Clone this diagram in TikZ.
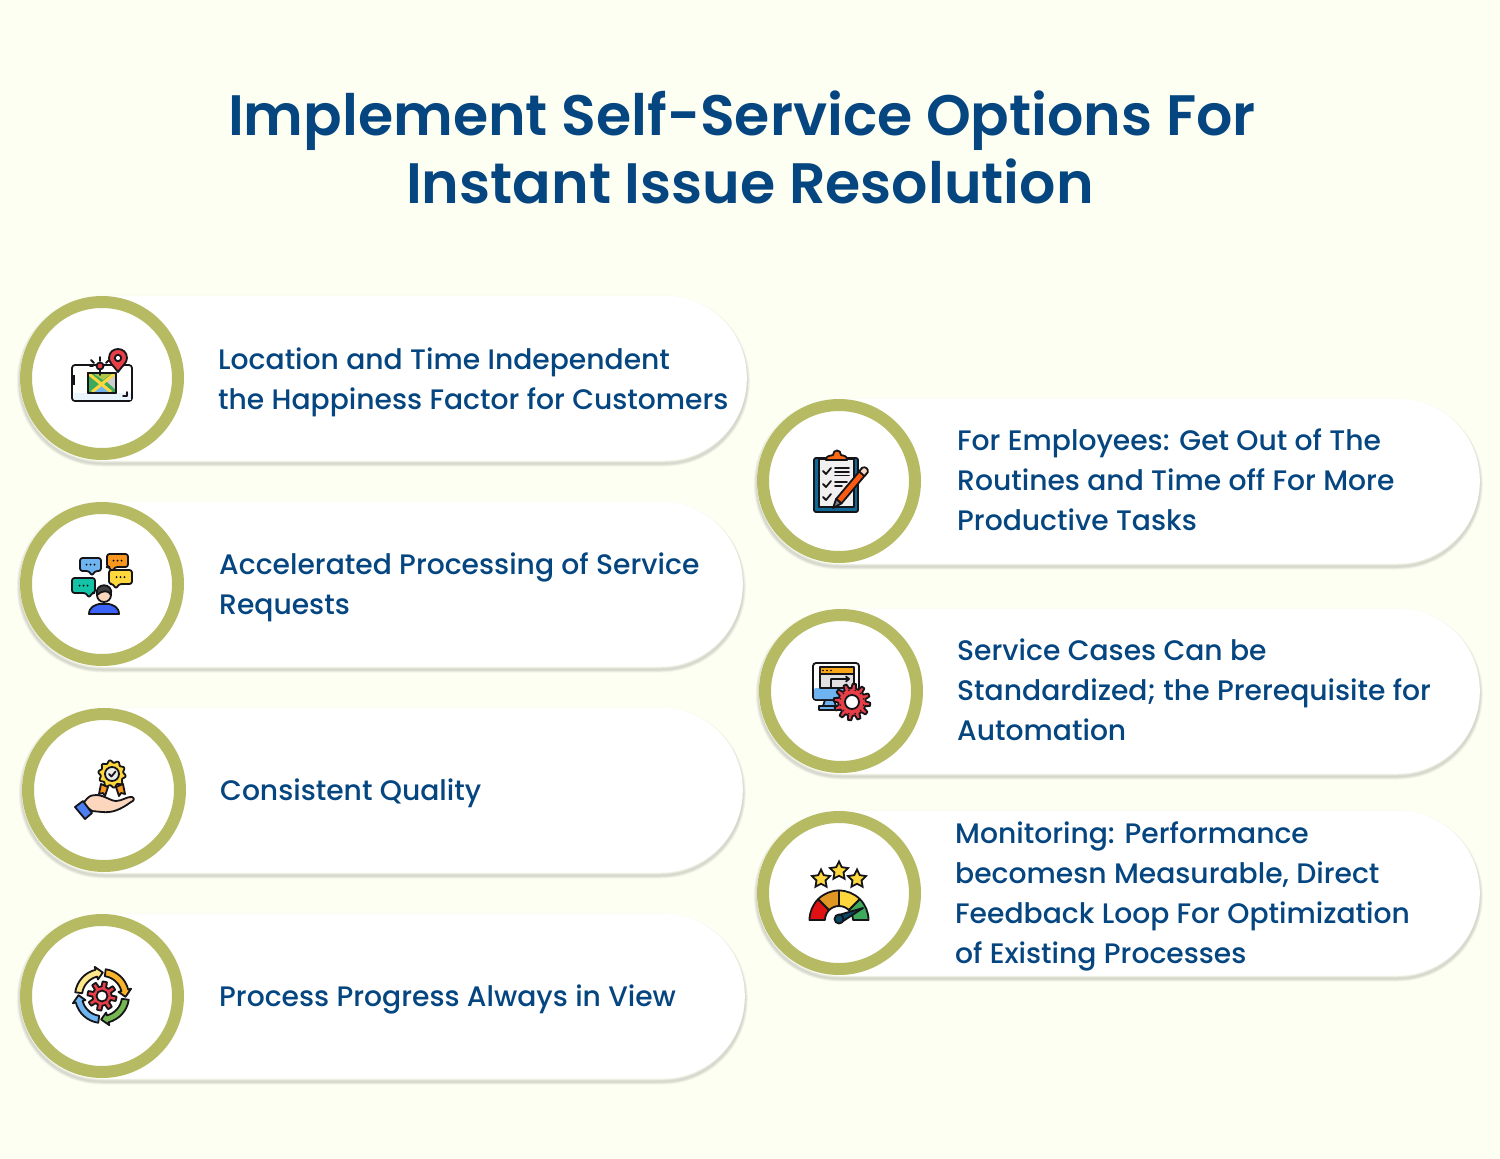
\documentclass[tikz,border=0pt]{standalone}
\usepackage{fontspec}
\setmainfont{Poppins Medium}
\newfontfamily\titlefont{Poppins SemiBold}
\usetikzlibrary{shapes.geometric}

% Wavy closed outline: shift, radius, amplitude, fill, lobes, steepness
\newcommand{\wheelicon}[6]{
    \draw[iconline, fill=#4, shift={(#1)}] plot[domain=0:360, samples=145] (\x:{#2+#3*max(min(#6*sin(#5*\x),1),-1)}) -- cycle;
}
% Speech bubble: x1, y1, x2, y2, fill, tail x
\newcommand{\bubbleicon}[6]{
    \draw[iconline, fill=#5, rounded corners=2.5pt] (#1,#2) -- (#3,#2) -- (#3,#4) -- (#6+3,#4) -- (#6,#4+5) -- (#6-3,#4) -- (#1,#4) -- cycle;
    \foreach \d in {-4,0,4} {
        \fill[black] ({(#1+#3)/2+\d},{(#2+#4)/2}) circle (1);
    }
}
% Arc arrow of the cycle icon: start angle, end angle, fill
\newcommand{\cycleicon}[3]{
    \draw[iconline, fill=#3] (#1:20) arc[start angle=#1, end angle=#2, radius=20] -- (#2:17) -- (#2+16:23.5) -- (#2:30) -- (#2:27) arc[start angle=#2, end angle=#1, radius=27] -- cycle;
}
% Gauge segment: start angle, end angle, fill
\newcommand{\gaugeicon}[3]{
    \draw[iconline, fill=#3] (#1:14) arc[start angle=#1, end angle=#2, radius=14] -- (#2:29.5) arc[start angle=#2, end angle=#1, radius=29.5] -- cycle;
}

\begin{document}
\begin{tikzpicture}[x=1pt, y=-1pt,
        softedge/.style={draw=black, draw opacity=0.04, line width=#1, transform canvas={yshift=-3pt}},
        pill/.style={fill=white, rounded corners=82pt, minimum height=165pt, inner sep=0pt, anchor=east,
            preaction={softedge=6pt}, preaction={softedge=4.5pt}, preaction={softedge=3pt}, preaction={softedge=1.5pt}},
        ring/.style={circle, draw=myolive, fill=white, line width=12pt, minimum size=152pt, inner sep=0pt},
        lbl/.style={anchor=west, align=left, text=myblue, inner sep=0pt, font=\fontsize{28.2}{40}\selectfont},
        headline/.style={anchor=base, text=myblue, inner sep=0pt, font=\fontsize{57}{68}\titlefont},
        iconline/.style={draw=iconblack, line width=1.8pt, line join=round, line cap=round}]
        % Colours
        \definecolor{mybg}{RGB}{254, 255, 243}
        \definecolor{myblue}{RGB}{5, 70, 128}
        \definecolor{myolive}{RGB}{182, 186, 99}
        \definecolor{iconblack}{RGB}{20, 20, 25}
        \definecolor{icred}{RGB}{232, 62, 72}
        \definecolor{icorange}{RGB}{248, 150, 30}
        \definecolor{icyellow}{RGB}{253, 215, 60}
        \definecolor{icgreen}{RGB}{60, 170, 90}
        \definecolor{icsky}{RGB}{110, 180, 240}
        \definecolor{icteal}{RGB}{20, 195, 165}
        \definecolor{icskin}{RGB}{252, 215, 190}
        \definecolor{icdeep}{RGB}{15, 105, 150}

        % Page
        \fill[mybg] (0,0) rectangle (1500,1159);
        \useasboundingbox (0,0) rectangle (1500,1159);

        % 1. Title
        \node[headline] (title1) at (742, 135) {Implement Self-Service Options For};
        \node[headline] (title2) at (750, 203) {Instant Issue Resolution};

        % 2. Pills, rings and labels
        \foreach \cx/\cy/\rgt/\tx/\ty/\txt [count=\i] in {
            102/378/747/218/382/{Location and Time Independent\\the Happiness Factor for Customers},
            102/584/743/219/587/{Accelerated Processing of Service\\Requests},
            104/790/743/220/793/{Consistent Quality},
            102/996/745/219/999/{Process Progress Always in View},
            839/481/1480/957/480/{For Employees: Get Out of The\\Routines and Time off For More\\Productive Tasks},
            841/691/1480/957/690/{Service Cases Can be\\Standardized; the Prerequisite for\\Automation},
            839/893/1480/955/896/{Monitoring: Performance\\becomesn Measurable, Direct\\Feedback Loop For Optimization\\of Existing Processes}} {
            \node[pill, minimum width={(\rgt-\cx+82)*1pt}] (pill\i) at (\rgt, \cy) {};
            \node[ring] (ring\i) at (\cx, \cy) {};
            \node[lbl] (lbl\i) at (\tx, \ty) {\txt};
        }

        % 3. Icons
        % Map on a phone
        \begin{scope}[shift={(102,378)}]
            \draw[iconline, fill=white, rounded corners=3pt] (-30,-13) rectangle (30,23);
            \fill[icsky!15] (-28.5,15) rectangle (28.5,21.5);
            \fill[iconblack] (-30,-3) rectangle (-27.5,7);
            \draw[iconline] (25,14) -- (25,18) -- (21,18);
            \draw[iconline, fill=icgreen] (-14,-5) rectangle (14,15);
            \fill[icsky] (-10,15) -- (1,5) -- (11,15) -- cycle;
            \fill[gray!40] (14,-5) -- (14,12) -- (4,3) -- cycle;
            \fill[icyellow!60!icgreen] (-9,-5) -- (10,-5) -- (1,2) -- cycle;
            \draw[icyellow, line width=3pt] (-13,-4) -- (9,14) (12,-4) -- (-10,14);
            \draw[iconline] (-14,-5) rectangle (14,15);
            \draw[iconline] (-2,-8) -- (-2,-3) (-2,-17) -- (-2,-21) (-8,-15) -- (-11,-18) (4,-15) -- (7,-18) (-12,-12) -- (-9,-12);
            \draw[iconline, fill=icred] (-2,-12) circle (3.5);
            \draw[iconline, fill=icred] (16,-6) .. controls (12,-12) and (7,-15) .. (7,-20) .. controls (7,-32) and (25,-32) .. (25,-20) .. controls (25,-15) and (20,-12) .. (16,-6) -- cycle;
            \draw[iconline, fill=white] (16,-20) circle (3.2);
        \end{scope}

        % Person with speech bubbles
        \begin{scope}[shift={(102,584)}]
            \bubbleicon{-22}{-26}{-1}{-13}{icsky}{-10}
            \bubbleicon{5}{-30}{26}{-17}{icorange}{10}
            \bubbleicon{7}{-14}{30}{0}{icyellow}{14}
            \bubbleicon{-30}{-6}{-7}{9}{icteal}{-13}
            \draw[iconline, fill=icsky!55!blue] (-13,30) .. controls (-13,23) and (-7,21) .. (-3,20) -- (7,20) .. controls (11,21) and (17,23) .. (17,30) -- cycle;
            \draw[iconline, fill=icskin] (2,11) circle (7);
            \draw[iconline, fill=black!75] (-5,11) .. controls (-8,-2) and (12,-2) .. (9,11) .. controls (7,6) and (0,6) .. (-5,11) -- cycle;
        \end{scope}

        % Hand holding a rosette
        \begin{scope}[shift={(104,790)}]
            \draw[iconline, fill=icorange] (-3,-6) -- (4,-3) -- (1,6) -- (-1,3) -- (-5,4) -- cycle;
            \draw[iconline, fill=icorange] (19,-6) -- (12,-3) -- (15,6) -- (17,3) -- (21,4) -- cycle;
            \wheelicon{8,-16}{12.5}{1.2}{icyellow}{10}{1}
            \draw[iconline, fill=black!8] (8,-16) circle (7);
            \draw[iconline] (5,-16) -- (7.5,-13.5) -- (11.5,-18.5);
            \draw[iconline, fill=icskin] (-21,14) .. controls (-15,4) and (-10,4) .. (-2,6) .. controls (4,8) and (8,11) .. (12,11) .. controls (18,11) and (24,6) .. (28,7) .. controls (31,8) and (30,11) .. (27,12) .. controls (16,20) and (8,23) .. (-2,22) -- (-12,21) -- cycle;
            \draw[iconline, fill=icsky!70!blue] (-29,17) -- (-21,11) -- (-12,23) -- (-19,29) -- cycle;
        \end{scope}

        % Cycle around a gear
        \begin{scope}[shift={(102,996)}]
            \cycleicon{188}{256}{icyellow!60!white}
            \cycleicon{278}{346}{icorange!55!icyellow}
            \cycleicon{8}{76}{icgreen!70!icyellow}
            \cycleicon{98}{166}{icsky}
            \wheelicon{0,0}{12}{2.5}{icred}{8}{3}
            \draw[iconline, fill=white] (0,0) circle (5.5);
        \end{scope}

        % Clipboard and pencil
        \begin{scope}[shift={(839,481)}]
            \draw[iconline, fill=icdeep, rounded corners=2pt] (-25,-23) rectangle (19,31);
            \draw[iconline, fill=black!6] (-20,-22) rectangle (15,26);
            \draw[iconline, fill=icorange!70!red] (-13,-21) .. controls (-13,-26) and (-8,-25) .. (-6,-26) .. controls (-6,-32) and (2,-32) .. (2,-26) .. controls (4,-25) and (8,-26) .. (8,-21) -- cycle;
            \foreach \ya in {-10, 3, 16} {
                \draw[iconline] (-16,\ya) -- (-13,{\ya+3}) -- (-8,{\ya-3});
            }
            \draw[iconline] (-4,-13) -- (10,-13) (-4,-9) -- (10,-9) (-4,-5.5) -- (10,-5.5) (-4,1) -- (8,1) (-4,5) -- (3,5);
            \draw[iconline, fill=icorange!60!red] (2.46,22.44) -- (28.66,-8.76) -- (23.34,-13.24) -- (-2.86,17.96) -- cycle;
            \draw[iconline, fill=icskin] (25.46,-4.96) -- (28.66,-8.76) .. controls (30,-12) and (26,-15) .. (23.34,-13.24) -- (20.14,-9.44) -- cycle;
            \draw[iconline, fill=gray] (2.46,22.44) -- (-6,27) -- (-2.86,17.96) -- cycle;
        \end{scope}

        % Monitor and gear
        \begin{scope}[shift={(841,691)}]
            \draw[iconline, fill=icsky] (-22,15) -- (-1,15) -- (-1,19) -- (-22,19) -- cycle;
            \draw[iconline, fill=icsky] (-16,9) -- (-7,9) -- (-5,15) -- (-18,15) -- cycle;
            \draw[iconline, fill=white, rounded corners=3pt] (-28,-28) rectangle (18,9);
            \fill[icsky, rounded corners=2pt] (-27,-3) rectangle (17,8);
            \draw[iconline, fill=icorange!85!yellow] (-21,-24) rectangle (13,-17);
            \draw[iconline, fill=black!12] (-21,-17) rectangle (13,-3);
            \fill[black] (-18,-20.5) circle (0.9) (-14,-20.5) circle (0.9) (-10,-20.5) circle (0.9);
            \draw[iconline] (-10,-4) -- (-10,-12) -- (8,-12) (5,-14.5) -- (8,-12) -- (5,-9.5);
            \wheelicon{11,11}{16}{2.3}{icred}{12}{3}
            \draw[iconline, fill=white] (11,11) circle (7);
            \foreach \ang in {15, 45, ..., 345} {
                \fill[iconblack, shift={(11,11)}] (\ang:12) circle (0.8);
            }
        \end{scope}

        % Gauge with stars
        \begin{scope}[shift={(839,893)}]
            \foreach \sx/\sy [count=\j] in {-18/-14, 0/-22, 18/-14} {
                \node[star, star points=5, star point ratio=2, draw=iconblack, line width=1.8pt, fill=icyellow, minimum size=19pt, inner sep=0pt] (star\j) at (\sx, \sy) {};
            }
            \begin{scope}[shift={(0,27)}]
                \gaugeicon{180}{225}{red!70!icred!90!black}
                \gaugeicon{225}{270}{icorange!75!icyellow!90!black}
                \gaugeicon{270}{315}{icyellow}
                \gaugeicon{315}{360}{icgreen}
            \end{scope}
            \draw[iconline, fill=icdeep!70!black] (-2,22.5) -- (24,15) -- (2,29.5) -- cycle;
            \draw[iconline, fill=icdeep!70!black] (0,26) circle (4.5);
        \end{scope}
    \end{tikzpicture}
\end{document}
